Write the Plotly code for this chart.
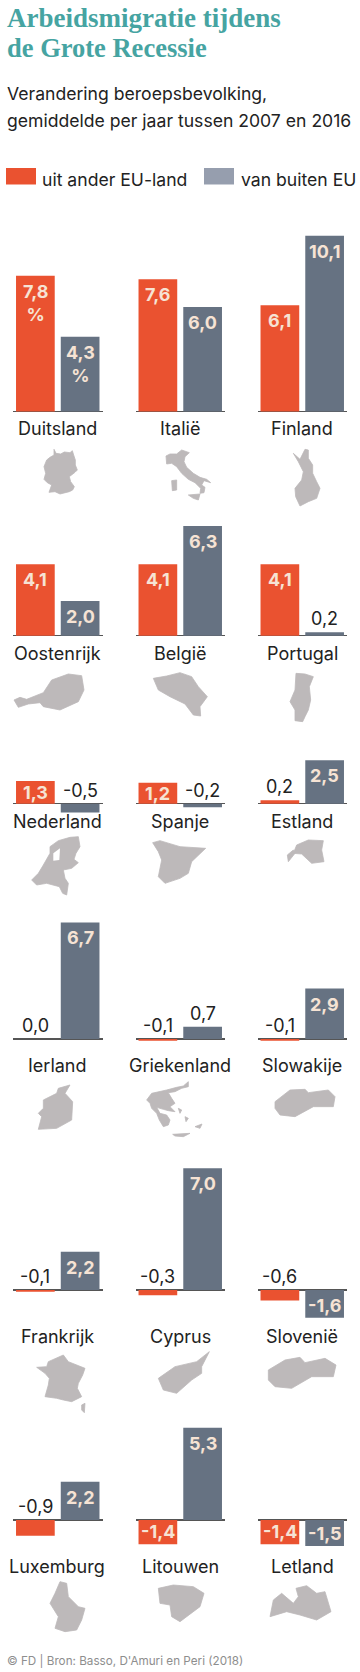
import plotly.graph_objects as go

# ---- data ----
countries = ["Duitsland", "Italië", "Finland",
             "Oostenrijk", "België", "Portugal",
             "Nederland", "Spanje", "Estland",
             "Ierland", "Griekenland", "Slowakije",
             "Frankrijk", "Cyprus", "Slovenië",
             "Luxemburg", "Litouwen", "Letland"]
eu_values = [7.8, 7.6, 6.1, 4.1, 4.1, 4.1, 1.3, 1.2, 0.2,
             0.0, -0.1, -0.1, -0.1, -0.3, -0.6, -0.9, -1.4, -1.4]
non_eu_values = [4.3, 6.0, 10.1, 2.0, 6.3, 0.2, -0.5, -0.2, 2.5,
                 6.7, 0.7, 2.9, 2.2, 7.0, -1.6, 2.2, 5.3, -1.5]
series_names = ["uit ander EU-land", "van buiten EU"]

# ---- style / layout ----
W, H = 360, 1672
ORANGE, SLATE, LEGEND_GREY = "#EA5230", "#667282", "#969EAE"
CREAM, DARK, MAPGREY = "#F6E3D4", "#222222", "#BDB9BA"
SANS, SERIF = "Inter", "Liberation Serif"
PX_PER_UNIT = 17.4
ABOVE, BELOW = 190, 40
col_left = [13, 135.5, 257.5]
PANEL_W = 89.5
baselines = [411.5, 635.7, 803.7, 1039, 1290, 1520]
label_y = [429, 653, 821, 1065, 1336, 1566]
label_x = [57.5, 180, 302]


def px(x):
    return x / W


def py(y):
    return 1 - y / H


def fmt(v):
    return f"{v:.1f}".replace(".", ",")


fig = go.Figure()
annotations, shapes = [], []


def text(x, y, s, size, color=DARK, family=SANS, anchor="left", weight=400):
    annotations.append(dict(x=px(x), y=py(y), xref="paper", yref="paper", text=s, showarrow=False,
                            xanchor=anchor, yanchor="middle",
                            font=dict(size=size, color=color, family=family, weight=weight)))


for i, name in enumerate(countries):
    r, c = divmod(i, 3)
    ax = "" if i == 0 else str(i + 1)
    base = baselines[r]
    xa, ya = "xaxis" + ax, "yaxis" + ax
    cats = series_names
    vals = [eu_values[i], non_eu_values[i]]
    fig.add_trace(go.Bar(x=cats, y=vals, marker=dict(color=[ORANGE, SLATE], line_width=0),
                         xaxis="x" + ax, yaxis="y" + ax, showlegend=False, hoverinfo="skip"))
    fig.update_layout({
        xa: dict(domain=[px(col_left[c]), px(col_left[c] + PANEL_W)], visible=False,
                 type="category", categoryorder="array", categoryarray=cats, anchor="y" + ax,
                 range=[-0.5, 1.5]),
        ya: dict(domain=[py(base + BELOW), py(base - ABOVE)], anchor="x" + ax,
                 range=[-BELOW / PX_PER_UNIT, ABOVE / PX_PER_UNIT], showgrid=False,
                 showticklabels=False, ticks="", showline=False, zeroline=True,
                 zerolinecolor="#555555", zerolinewidth=1.4),
    })
    for cat, v in zip(cats, vals):
        s = fmt(v)
        if name == "Duitsland":
            s += "<br>%"
        inside = abs(v) >= 1
        if inside and v > 0 and v < 1.8:
            yval, yanc, shift = v / 2, "middle", 0
        elif inside and v > 0:
            yval, yanc, shift = v, "top", -3
        elif inside:
            yval, yanc, shift = v, "bottom", 0
        else:
            yval, yanc, shift = max(v, 0), "bottom", 1
        annotations.append(dict(x=cat, y=yval, xref="x" + ax, yref="y" + ax, text=s, showarrow=False,
                                yanchor=yanc, yshift=shift,
                                font=dict(size=18, family=SANS, color=CREAM if inside else DARK,
                                          weight=700 if inside else 400)))
    text(label_x[c], label_y[r], name, 18, anchor="center")

text(4.5, 18.5, "Arbeidsmigratie tijdens", 27, "#46A4A2", SERIF, weight=700)
text(4.5, 48, "de Grote Recessie", 26.5, "#46A4A2", SERIF, weight=700)
text(4.5, 93, "Verandering beroepsbevolking,", 17.6)
text(4.5, 120, "gemiddelde per jaar tussen 2007 en 2016", 17.6)
text(40, 179, series_names[0], 17.6)
text(239, 179, series_names[1], 17.6)
text(4.5, 1661, "© FD | Bron: Basso, D'Amuri en Peri (2018)", 11.7, "#8E8E8E")

for x0, x1, col in [(6, 36, ORANGE), (204, 234, LEGEND_GREY)]:
    shapes.append(dict(type="rect", xref="paper", yref="paper", x0=px(x0), x1=px(x1),
                       y0=py(184.5), y1=py(168), fillcolor=col, line_width=0))

# country silhouettes: outlines traced in crop pixels (3x) with their crop origin
maps = [
    (30, 440, [(72,28),(78,40),(92,42),(103,36),(120,38),(127,32),(131,45),(136,60),(136,75),(142,90),(135,97),(118,110),(122,125),(133,140),(128,150),(118,155),(90,162),(75,155),(57,157),(65,135),(52,128),(42,118),(47,100),(42,80),(50,60),(60,52),(72,45)]),
    (30, 440, [(408,48),(420,42),(440,42),(455,30),(478,38),(465,50),(462,65),(470,82),(490,100),(510,112),(530,118),(542,128),(522,122),(515,135),(525,142),(522,158),(510,160),(512,145),(495,128),(475,118),(455,100),(440,80),(425,70),(410,72)]),
    (30, 440, [(425,122),(440,120),(440,150),(427,152)]),
    (30, 440, [(475,165),(510,162),(505,180),(490,175)]),
    (30, 440, [(790,40),(810,58),(825,28),(835,30),(835,55),(848,75),(848,100),(860,125),(870,145),(860,175),(835,185),(810,198),(797,170),(795,145),(815,120),(820,95),(805,65)]),
    (0, 500, [(42,600),(60,592),(80,598),(130,578),(155,540),(205,522),(245,527),(252,570),(235,605),(180,630),(130,620),(120,608),(85,612),(55,622)]),
    (0, 500, [(460,535),(500,528),(540,518),(575,530),(595,560),(622,590),(600,620),(602,648),(580,645),(555,612),(510,590),(475,570)]),
    (0, 500, [(888,520),(915,522),(940,530),(928,560),(932,600),(925,630),(915,650),(908,665),(885,662),(885,630),(870,605),(885,570)]),
    (0, 500, [(150,1040),(175,1022),(210,1012),(235,1010),(240,1040),(228,1060),(222,1078),(235,1088),(215,1105),(190,1110),(195,1135),(205,1150),(200,1185),(188,1180),(178,1160),(140,1150),(110,1155),(95,1140),(115,1120),(130,1095),(150,1060)]),
    (0, 500, [(458,1028),(480,1022),(540,1040),(617,1045),(575,1085),(565,1120),(540,1135),(495,1150),(475,1130),(485,1080),(475,1055)]),
    (0, 500, [(890,1035),(925,1020),(970,1022),(965,1050),(972,1085),(935,1090),(905,1062),(880,1060)]),
    (0, 500, [(862,1065),(880,1050),(885,1060),(865,1085)]),
    (0, 900, [(130,600),(170,580),(175,565),(210,555),(195,580),(218,605),(215,660),(170,685),(115,688),(125,650),(115,640),(130,625)]),
    (0, 900, [(440,600),(455,580),(500,570),(530,562),(550,558),(565,545),(565,560),(545,565),(525,575),(505,578),(515,595),(525,610),(510,620),(525,635),(505,632),(490,628),(470,622),(480,640),(500,645),(510,660),(505,675),(490,680),(478,660),(470,640),(455,625),(450,610)]),
    (0, 900, [(518,703),(570,700),(550,710),(525,708)]),
    (0, 900, [(585,680),(606,672),(600,685)]),
    (0, 900, [(535,625),(545,630),(540,640)]),
    (0, 900, [(555,650),(565,655),(558,665)]),
    (0, 900, [(825,605),(870,570),(915,568),(925,578),(985,570),(1005,590),(1000,620),(940,620),(885,650),(840,645),(825,625)]),
    (0, 1170, [(110,592),(140,590),(145,575),(190,555),(205,575),(255,595),(248,615),(235,640),(232,655),(245,680),(215,695),(190,690),(170,685),(135,680),(145,645),(148,625),(135,610)]),
    (0, 1170, [(245,705),(255,700),(253,728),(245,720)]),
    (0, 1170, [(475,625),(525,590),(590,575),(628,545),(605,590),(605,610),(575,630),(530,670),(490,660)]),
    (0, 1170, [(805,600),(855,570),(900,562),(915,578),(975,565),(1008,585),(1000,620),(935,620),(875,655),(825,650),(805,630)]),
    (0, 1420, [(180,485),(200,490),(205,530),(235,560),(255,565),(245,600),(230,630),(195,635),(165,625),(175,590),(150,550),(165,520)]),
    (0, 1420, [(475,505),(520,495),(580,500),(612,520),(600,560),(560,590),(540,605),(515,590),(510,555),(480,550)]),
    (0, 1420, [(810,590),(820,540),(845,520),(880,550),(895,530),(888,505),(920,497),(950,520),(975,515),(993,575),(950,600),(900,585),(860,575)]),
]


def add_map(ox, oy, pts, color, lw):
    path = "M" + " L".join(f"{px(ox + x / 3):.5f},{py(oy + y / 3):.5f}" for x, y in pts) + " Z"
    shapes.append(dict(type="path", path=path, xref="paper", yref="paper", fillcolor=color,
                       line=dict(color=color, width=lw)))


for ox, oy, pts in maps:
    add_map(ox, oy, pts, MAPGREY, 0.8)
add_map(0, 500, [(160, 1060), (180, 1045), (178, 1080), (160, 1082)], "white", 0)

fig.update_layout(width=W, height=H, margin=dict(l=0, r=0, t=0, b=0), paper_bgcolor="white",
                  plot_bgcolor="rgba(0,0,0,0)", bargap=0.135, showlegend=False,
                  annotations=annotations, shapes=shapes)
fig.write_html("out.html", config={"displayModeBar": False, "staticPlot": True},
               post_script="document.body.style.margin='0';document.body.style.overflow='hidden';")
